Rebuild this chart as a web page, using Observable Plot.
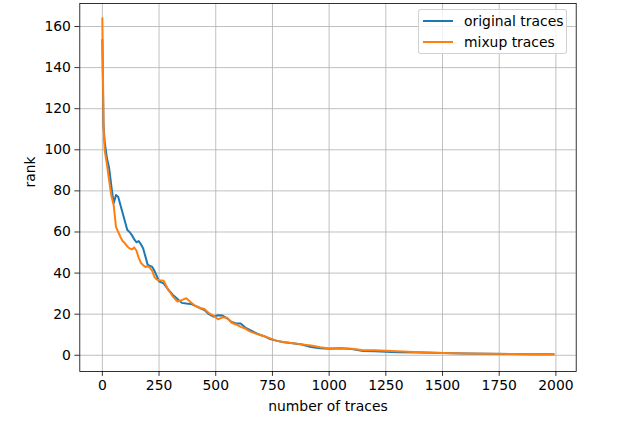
<!DOCTYPE html>
<html>
<head>
<meta charset="utf-8">
<script src="https://cdn.jsdelivr.net/npm/d3@7"></script>
<script src="https://cdn.jsdelivr.net/npm/@observablehq/plot@0.6"></script>
<style>
  html, body { margin: 0; padding: 0; background: #fff; }
  #wrap { position: relative; width: 638px; height: 423px; font-family: "DejaVu Sans", sans-serif; }
  #wrap svg { position: absolute; left: 0; top: 0; }
  #legend { position: absolute; left: 418px; top: 9px; width: 149px; height: 45px;
    border: 1px solid rgba(204,204,204,0.9); border-radius: 3px; background: rgba(255,255,255,0.8);
    font-size: 13.9px; color: #000; box-sizing: border-box; }
  .row { position: absolute; left: 0; height: 16px; display: flex; align-items: center; }
  .sw { position: absolute; left: 4px; width: 30px; height: 2px; }
  .lab { position: absolute; left: 45px; white-space: nowrap; line-height: 16px; }
</style>
</head>
<body>
<div id="wrap">
  <div id="legend">
    <div class="row" style="top:3px"><div class="sw" style="background:#1f77b4;top:7px"></div><div class="lab">original traces</div></div>
    <div class="row" style="top:24px"><div class="sw" style="background:#ff7f0e;top:7px"></div><div class="lab">mixup traces</div></div>
  </div>
</div>
<script>
const traces = [0, 5, 10, 20, 30, 40, 50, 60, 70, 80, 90, 100, 110, 120, 130, 140, 150, 160, 170, 180, 190, 200, 210, 220, 230, 240, 250, 270, 290, 310, 330, 350, 370, 390, 410, 430, 450, 470, 490, 510, 530, 550, 570, 590, 610, 630, 650, 680, 710, 740, 770, 800, 840, 880, 920, 960, 1000, 1050, 1100, 1150, 1200, 1300, 1400, 1500, 1600, 1700, 1800, 1900, 1990];
const originalRank = [153.5, 112, 104, 96, 91, 82, 74, 78, 77, 73, 69, 65, 61, 60, 58.5, 56.5, 55, 55.6, 54, 52, 48, 44, 43.5, 43, 41, 38.5, 36, 35, 32, 29.5, 27.5, 25.5, 25.2, 25, 24, 23, 22, 20, 18.8, 19.5, 19.3, 18, 16.2, 15.5, 15.5, 13.5, 12.3, 10.6, 9.4, 7.9, 7, 6.3, 5.9, 5.2, 4, 3.4, 3.2, 3.4, 3.1, 2.1, 1.9, 1.5, 1.3, 1.1, 0.85, 0.7, 0.6, 0.5, 0.5];
const mixupRank = [164, 112, 100, 93, 85, 77.5, 73, 62.5, 60, 57.5, 55.5, 54.5, 53, 52, 51.5, 52.5, 51, 47.5, 45, 43.8, 43, 43.3, 42.5, 41, 38, 36.8, 36.5, 36.3, 32, 28.7, 26.2, 26.8, 27.8, 25.8, 24, 23, 22.5, 20.5, 19.3, 17.5, 18.5, 18.3, 15.8, 15, 13.8, 13, 11.6, 10.4, 9.4, 8.2, 7, 6.5, 5.8, 5.3, 4.8, 3.9, 3.3, 3.4, 3.2, 2.4, 2.4, 1.9, 1.5, 1.1, 0.85, 0.7, 0.6, 0.5, 0.5];
const xTicks = [0, 250, 500, 750, 1000, 1250, 1500, 1750, 2000];
const yTicks = [0, 20, 40, 60, 80, 100, 120, 140, 160];

const orig = traces.map((t, i) => ({t, r: originalRank[i]}));
const mix = traces.map((t, i) => ({t, r: mixupRank[i]}));

const chart = Plot.plot({
  width: 638,
  height: 423,
  marginLeft: 79.3,
  marginRight: 62.3,
  marginTop: 3,
  marginBottom: 52,
  style: {fontFamily: "DejaVu Sans, sans-serif", fontSize: "13.9px", color: "#000", background: "transparent"},
  x: {domain: [-99.5, 2089.5]},
  y: {domain: [-7.9, 171.2]},
  marks: [
    Plot.gridX(xTicks, {stroke: "#b0b0b0", strokeOpacity: 1, strokeWidth: 0.8}),
    Plot.gridY(yTicks, {stroke: "#b0b0b0", strokeOpacity: 1, strokeWidth: 0.8}),
    Plot.line(orig, {x: "t", y: "r", stroke: "#1f77b4", strokeWidth: 2}),
    Plot.line(mix, {x: "t", y: "r", stroke: "#ff7f0e", strokeWidth: 2}),
    Plot.frame({stroke: "#000", strokeWidth: 0.8}),
    Plot.axisX(xTicks, {tickSize: 4.9, tickPadding: 4, strokeWidth: 0.8, label: null, fontSize: 13.9, tickFormat: d => String(d)}),
    Plot.axisY(yTicks, {tickSize: 4.9, tickPadding: 4, strokeWidth: 0.8, label: null, fontSize: 13.9, tickFormat: d => String(d)}),
    Plot.text(["number of traces"], {frameAnchor: "bottom", dy: 35, lineAnchor: "middle", fontSize: 13.9}),
    Plot.text(["rank"], {frameAnchor: "left", dx: -49, rotate: -90, lineAnchor: "middle", fontSize: 13.9})
  ]
});
document.getElementById("wrap").prepend(chart);
</script>
</body>
</html>
